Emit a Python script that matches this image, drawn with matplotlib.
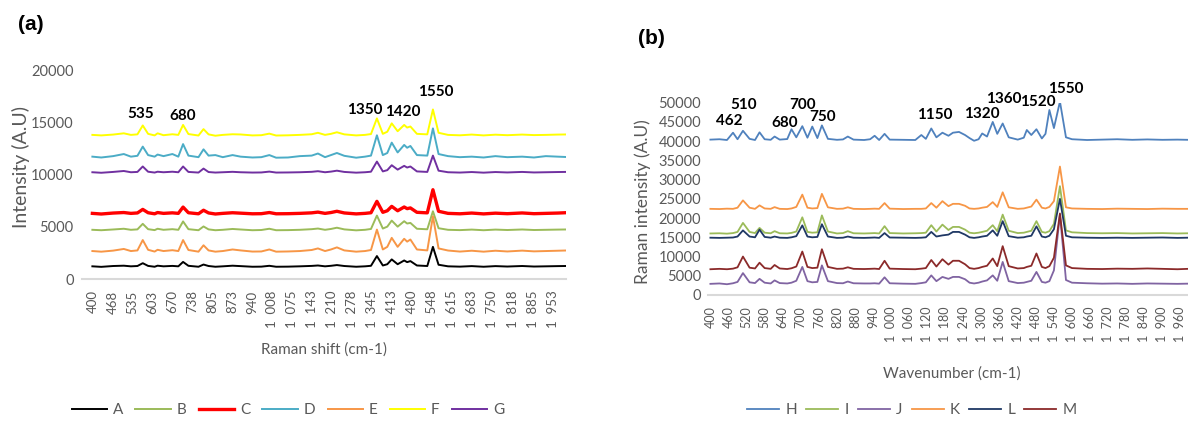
import numpy as np
import matplotlib
matplotlib.use("Agg")
import matplotlib.pyplot as plt

plt.rcParams['font.family'] = ['Lato', 'DejaVu Sans']

# ---------------- panel (a) ----------------
shift_a = [400, 430, 470, 506, 530, 552, 570, 588, 610, 620,
           640, 670, 690, 706, 724, 758, 775, 792, 815, 840,
           873, 900, 940, 970, 997, 1020, 1060, 1100, 1140, 1161,
           1185, 1205, 1225, 1250, 1290, 1320, 1340, 1360, 1380, 1395,
           1410, 1430, 1452, 1462, 1473, 1495, 1530, 1549, 1568, 1600,
           1640, 1680, 1720, 1760, 1800, 1850, 1890, 1930, 1970, 1995]

base_a = {'A': 1240, 'B': 4730, 'C': 6300, 'D': 11720, 'E': 2700, 'F': 13800, 'G': 10230}

peaks_a = {
    'A': [0, -50, 30, 60, 0, 30, 300, 40, -40, 60,
          0, 40, 0, 420, 50, -40, 170, 30, -40, 0,
          60, 20, -40, -30, 50, -40, -30, 0, 40, 80,
          0, 50, 120, 30, -40, 0, 50, 980, 80, 200,
          660, 200, 560, 400, 500, 80, 30, 1860, 150, 0,
          -30, 20, -40, 20, -20, 30, -20, 0, 20, 30],
    'B': [0, -40, 30, 100, 0, 40, 570, 60, -30, 100,
          0, 60, 0, 800, 60, -40, 320, 40, -40, 0,
          80, 30, -40, -20, 100, -40, -30, 0, 60, 120,
          0, 80, 200, 40, -50, 0, 80, 1360, 120, 300,
          880, 300, 820, 600, 660, 100, 50, 1770, 150, 0,
          -30, 20, -40, 20, -20, 30, -20, 0, 20, 30],
    'C': [0, -60, 30, 80, 0, 40, 380, 60, -40, 80,
          0, 50, 0, 600, 60, -40, 300, 40, -60, 0,
          60, 20, -40, -30, 80, -40, -30, 0, 50, 120,
          0, 80, 200, 40, -50, 0, 60, 1150, 100, 250,
          670, 250, 610, 450, 520, 100, 50, 2260, 200, 0,
          -40, 30, -50, 20, -30, 40, -30, 0, 30, 60],
    'D': [0, -80, 50, 250, 0, 80, 960, 150, 0, 200,
          50, 250, 0, 1200, 100, -50, 700, 100, 150, -50,
          150, 0, -80, -50, 150, -100, -80, 50, 100, 300,
          -50, 150, 350, 80, -100, 0, 100, 2040, 150, 350,
          1340, 400, 1120, 850, 1020, 150, 100, 2700, 250, 50,
          -50, 0, -80, 50, -50, 0, -80, 50, 0, -30],
    'E': [0, -60, 40, 200, 0, 60, 1050, 120, -50, 120,
          0, 80, 0, 1050, 100, -60, 550, 60, -60, 0,
          150, 60, -50, -40, 150, -60, -40, 0, 100, 250,
          0, 150, 350, 60, -60, 0, 100, 2050, 150, 400,
          1260, 400, 1170, 900, 1100, 150, 60, 3320, 250, 50,
          -50, 30, -60, 30, -40, 40, -30, 0, 30, 50],
    'F': [0, -50, 30, 150, 0, 50, 900, 100, -50, 150,
          -30, 60, 0, 950, 80, -60, 550, 50, -80, 0,
          60, 40, -50, -30, 120, -60, -40, 0, 60, 200,
          0, 100, 250, 50, -50, 0, 80, 1575, 100, 300,
          1100, 350, 950, 700, 800, 100, 50, 2430, 200, 0,
          -40, 30, -50, 20, -30, 30, -20, 0, 30, 40],
    'G': [0, -50, 30, 120, 0, 30, 550, 50, -30, 50,
          0, 50, 0, 550, 30, -30, 350, 20, -30, 0,
          40, 0, -30, -20, 60, -30, -20, 0, 40, 100,
          0, 60, 150, 30, -40, 0, 50, 1020, 80, 200,
          670, 250, 610, 450, 550, 80, 30, 1590, 150, 0,
          -30, 20, -40, 20, -20, 30, -20, 0, 20, 30],
}
colors_a = {'A': '#000000', 'B': '#9bbb59', 'C': '#ff0000', 'D': '#4bacc6',
            'E': '#f79646', 'F': '#ffff00', 'G': '#7030a0'}
ticks_a = ['400', '468', '535', '603', '670', '738', '805', '873', '940', '1008',
           '1075', '1143', '1210', '1278', '1345', '1413', '1480', '1548',
           '1615', '1683', '1750', '1818', '1885', '1953']
notes_a = [('535', 563, 15800), ('680', 705, 15640), ('1350', 1320, 16180),
           ('1420', 1448, 15950), ('1550', 1559, 17860)]

# ---------------- panel (b) ----------------
shift_b = [400, 430, 455, 475, 490, 508, 530, 548, 563, 580, 600, 613,
           630, 655, 669, 685, 705, 722, 738, 755, 770, 790, 820, 840,
           856, 875, 910, 930, 945, 960, 978, 995, 1040, 1080, 1100, 1115,
           1133, 1150, 1170, 1190, 1205, 1225, 1245, 1260, 1275, 1290, 1302, 1318,
           1337, 1352, 1370, 1390, 1420, 1440, 1450, 1465, 1482, 1500, 1512, 1525,
           1540, 1560, 1580, 1600, 1650, 1700, 1750, 1800, 1850, 1900, 1950, 1985]

base_b = {'H': 40400, 'I': 16000, 'J': 2900, 'K': 22400, 'L': 14900, 'M': 6700}

peaks_b = {
    'H': [0, 100, -100, 1800, 100, 2300, 200, -100, 1900, 100, -50, 800,
          0, 150, 2700, 600, 3500, 500, 3400, 400, 3700, 200, -50, 50,
          800, 0, -100, 100, 1000, -100, 1500, 0, -50, -100, 1200, 200,
          2900, 600, 1800, 1000, 1800, 2000, 1200, 400, -300, 100, 1600, 800,
          4600, 1500, 4200, 600, 0, 500, 2500, 1200, 2700, 300, 1500, 7700,
          3000, 9900, 600, 100, -100, 0, 100, -50, 50, -50, 0, -50],
    'I': [0, 50, -50, 100, 400, 2750, 400, 100, 1450, 200, 50, 600,
          50, 0, 150, 500, 4200, 400, 200, 300, 4700, 500, 0, 100,
          600, 50, 0, 50, 100, 0, 1900, 100, 0, 50, 100, 200,
          2150, 500, 2300, 900, 1700, 1700, 1000, 200, 50, 200, 400, 700,
          2150, 600, 4900, 700, 100, 200, 400, 700, 3200, 400, 200, 600,
          2500, 12300, 800, 300, 100, 50, 100, 0, 50, 100, 0, 50],
    'J': [0, 100, -100, 150, 500, 2800, 400, 200, 1300, 300, 100, 900,
          200, 100, 300, 800, 4400, 700, 400, 500, 4800, 700, 200, 150,
          600, 150, 100, 100, 150, 50, 1700, 150, 50, 0, 200, 400,
          2200, 700, 1800, 1300, 1800, 1800, 1200, 300, 100, 300, 600, 900,
          2200, 800, 5700, 700, 200, 300, 500, 800, 3100, 500, 300, 700,
          3500, 18000, 1000, 300, 150, 50, 100, 0, 100, 50, 0, 50],
    'K': [0, -50, 50, 0, 300, 2200, 300, 0, 900, 100, 0, 450,
          0, -50, 100, 500, 3700, 300, 100, 200, 3900, 400, 0, 50,
          400, 0, -50, 0, 50, 0, 1500, 50, -50, 0, 0, 100,
          1500, 300, 2000, 700, 1300, 1300, 800, 100, 0, 100, 300, 500,
          1750, 500, 4300, 400, 0, 100, 300, 600, 2400, 300, 100, 500,
          2000, 11000, 400, 100, 0, -50, 50, 0, -50, 50, 0, 0],
    'L': [0, -50, 0, 50, 300, 1900, 300, 100, 2100, 200, 0, 300,
          0, -50, 100, 400, 3200, 300, 100, 200, 3500, 300, -50, 0,
          300, 0, -50, 0, 50, -50, 1200, 50, 0, -50, 0, 100,
          1500, 300, 600, 800, 1500, 1500, 800, 100, -50, 100, 300, 500,
          1900, 500, 4300, 400, 0, 100, 300, 500, 2950, 300, 100, 500,
          2200, 10100, 500, 100, 0, -50, 0, -50, 0, 50, -50, 0],
    'M': [0, 100, 0, 150, 500, 3300, 400, 200, 1700, 300, 100, 1100,
          200, 50, 250, 700, 4600, 600, 300, 400, 5200, 600, 100, 150,
          500, 100, 50, 100, 150, 50, 2200, 150, 50, 0, 150, 300,
          2400, 700, 2600, 1200, 2200, 2200, 1300, 300, 100, 300, 600, 900,
          2800, 800, 6000, 800, 200, 300, 600, 900, 4100, 600, 300, 800,
          3000, 14500, 1000, 300, 100, 50, 150, 100, 200, 100, 0, 100],
}
colors_b = {'H': '#4f81bd', 'I': '#9bbb59', 'J': '#8064a2', 'K': '#f79646',
            'L': '#1f3864', 'M': '#8b2a2a'}
ticks_b = list(range(400, 1961, 60))
notes_b = [('462', 462, 45300), ('510', 510, 49400), ('680', 646, 44800),
           ('700', 707, 49400), ('750', 773, 46200), ('1150', 1144, 46800),
           ('1320', 1302, 47060), ('1360', 1374, 50960), ('1520', 1486, 50180),
           ('1550', 1578, 53690)]

W, H = 1188, 421
grey = '#595959'
fig = plt.figure(figsize=(W / 100, H / 100), dpi=100)


def style(ax):
    for s in ['top', 'right', 'left']:
        ax.spines[s].set_visible(False)
    ax.spines['bottom'].set_color('#d9d9d9')
    ax.spines['bottom'].set_linewidth(1.5)
    ax.tick_params(length=0, colors=grey)


def spaced(v):
    # thousands shown with a space, as in the original
    s = str(v)
    return s[:-3] + '  ' + s[-3:] if len(s) > 3 else s


# panel a
ax1 = fig.add_axes([82 / W, 1 - 279.3 / H, (566 - 82) / W, (279.3 - 70) / H])
for k in base_a:
    y = np.array(peaks_a[k]) + base_a[k]
    lw = 2.4 if k == 'C' else 1.4
    ax1.plot(shift_a, y, color=colors_a[k], lw=lw, label=k)
ax1.set_xlim(365, 1998)
ax1.set_ylim(0, 20000)
ax1.set_yticks(range(0, 20001, 5000))
ax1.set_xticks(np.linspace(400, 1952.5, len(ticks_a)))
ax1.set_xticklabels([spaced(t) for t in ticks_a], rotation=90, fontsize=9.5)
ax1.tick_params(axis='y', labelsize=10.5, pad=6)
ax1.tick_params(axis='x', pad=8)
style(ax1)
for t, x, y in notes_a:
    ax1.text(x, y, t, ha='center', va='center', fontsize=11, fontweight='bold')

# panel b
ax2 = fig.add_axes([708 / W, 1 - 295 / H, (W - 708) / W, (295 - 102.7) / H])
for k in base_b:
    y = np.array(peaks_b[k]) + base_b[k]
    ax2.plot(shift_b, y, color=colors_b[k], lw=1.3, label=k)
ax2.set_xlim(392, 1985)
ax2.set_ylim(0, 50000)
ax2.set_yticks(range(0, 50001, 5000))
ax2.set_xticks(ticks_b)
ax2.set_xticklabels([spaced(v) for v in ticks_b], rotation=90, fontsize=9)
ax2.tick_params(axis='y', labelsize=10.5, pad=5)
ax2.tick_params(axis='x', pad=8)
style(ax2)
for t, x, y in notes_b:
    ax2.text(x, y, t, ha='center', va='center', fontsize=11, fontweight='bold', clip_on=False)

# labels
fig.text(21 / W, 1 - 167 / H, 'Intensity (A.U)', rotation=90, ha='center', va='center',
         fontsize=14, color=grey)
fig.text(324 / W, 1 - 350 / H, 'Raman shift (cm-1)', ha='center', va='center',
         fontsize=11, color=grey)
fig.text(643 / W, 1 - 202 / H, 'Raman intensity (A.U)', rotation=90, ha='center', va='center',
         fontsize=12.5, color=grey)
fig.text(952 / W, 1 - 374 / H, 'Wavenumber (cm-1)', ha='center', va='center',
         fontsize=11, color=grey)
fig.text(18 / W, 1 - 25 / H, '(a)', ha='left', va='center', fontsize=15,
         fontweight='bold', family='Liberation Sans')
fig.text(638 / W, 1 - 38 / H, '(b)', ha='left', va='center', fontsize=15,
         fontweight='bold', family='Liberation Sans')

# legends
h1, l1 = ax1.get_legend_handles_labels()
leg1 = fig.legend(h1, l1, loc='center', bbox_to_anchor=(288 / W, 1 - 410 / H), ncol=7,
                  frameon=False, fontsize=11, handlelength=2.3, handletextpad=0.4,
                  columnspacing=0.8)
h2, l2 = ax2.get_legend_handles_labels()
leg2 = fig.legend(h2, l2, loc='center', bbox_to_anchor=(912 / W, 1 - 410 / H), ncol=6,
                  frameon=False, fontsize=11, handlelength=2.1, handletextpad=0.4,
                  columnspacing=0.6)
for lg in (leg1, leg2):
    for t in lg.get_texts():
        t.set_color(grey)

fig.savefig('out.png', dpi=100)
